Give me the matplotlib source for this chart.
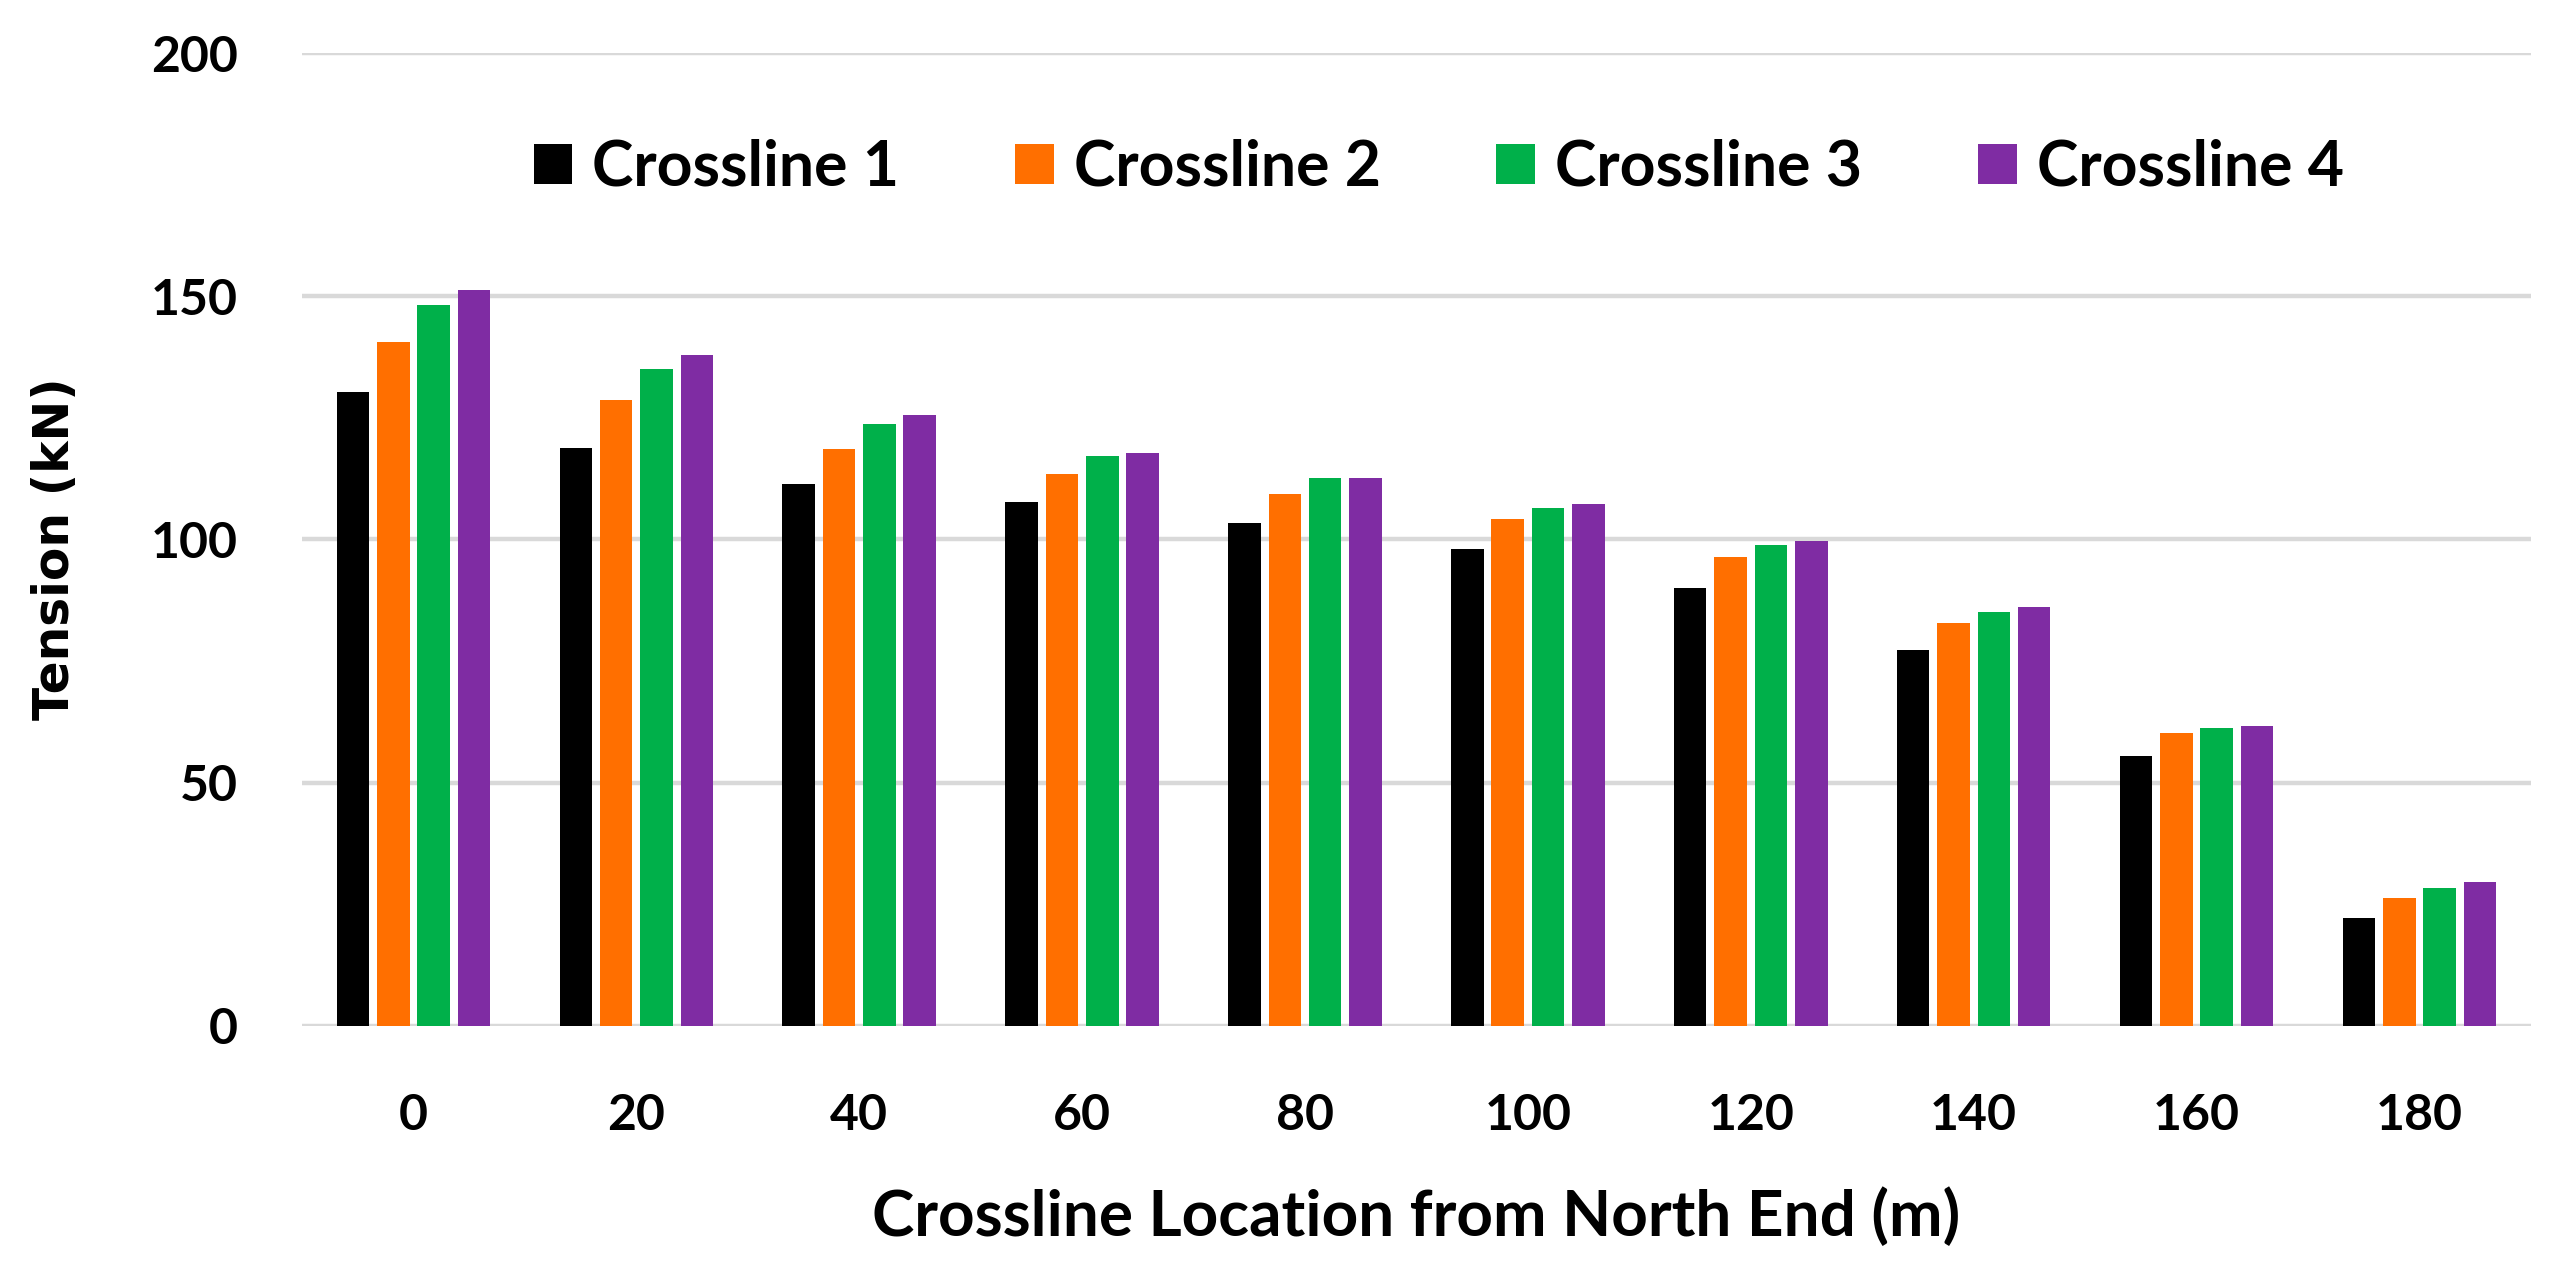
import numpy as np
import matplotlib
matplotlib.use("Agg")
import matplotlib.pyplot as plt

# tension per crossline at each location
locations = ["0", "20", "40", "60", "80", "100", "120", "140", "160", "180"]
crossline_1 = [130.4, 118.8, 111.4, 107.7, 103.4, 98.1, 90.0, 77.3, 55.5, 22.1]
crossline_2 = [140.6, 128.7, 118.6, 113.5, 109.4, 104.2, 96.4, 82.9, 60.2, 26.4]
crossline_3 = [148.2, 135.1, 123.7, 117.2, 112.7, 106.5, 98.9, 85.0, 61.3, 28.3]
crossline_4 = [151.3, 137.9, 125.6, 117.8, 112.7, 107.3, 99.7, 86.2, 61.7, 29.5]
series_names = ["Crossline 1", "Crossline 2", "Crossline 3", "Crossline 4"]
colors = ["#000000", "#FF6F00", "#00B04A", "#7F2CA3"]

font_main = ["Lato", "DejaVu Sans"]

fig = plt.figure(figsize=(25.59, 12.63), dpi=100)
ax = fig.add_axes([0.118, 0.1877, 0.871, 0.7703])

x = np.arange(len(locations))
step = 0.181
width = 0.146
all_series = [crossline_1, crossline_2, crossline_3, crossline_4]
for i, (vals, name, c) in enumerate(zip(all_series, series_names, colors)):
    ax.bar(x + (i - 1.5) * step, vals, width, color=c, label=name, zorder=3)

ax.set_xlim(-0.5, len(locations) - 0.5)
ax.set_ylim(0, 200)
ax.set_yticks([0, 50, 100, 150, 200])
ax.set_xticks(x)
ax.set_xticklabels(locations)

ax.grid(axis="y", color="#D9D9D9", linewidth=3.2, zorder=0)
ax.set_axisbelow(True)
for s in ax.spines.values():
    s.set_visible(False)
ax.tick_params(axis="both", length=0)
ax.tick_params(axis="x", pad=48)
ax.tick_params(axis="y", pad=46)
for lab in ax.get_xticklabels() + ax.get_yticklabels():
    lab.set_family(font_main)
    lab.set_fontweight("bold")
    lab.set_fontsize(36)

ax.set_xlabel("Crossline Location from North End (m)", family=font_main,
              fontweight="bold", fontsize=46, va="top")
ax.xaxis.set_label_coords(0.5, -0.165)
ax.set_ylabel("Tension (kN)", family="DejaVu Sans", fontweight="bold",
              fontsize=35, va="center")
ax.yaxis.set_label_coords(-0.111, 0.49)

leg = ax.legend(loc="center", bbox_to_anchor=(0.51, 0.882), ncol=4,
                frameon=False, handlelength=0.62, handleheight=0.62,
                handletextpad=0.32, columnspacing=1.85,
                prop={"family": font_main, "weight": "bold", "size": 45})

fig.savefig("out.png", dpi=100)
